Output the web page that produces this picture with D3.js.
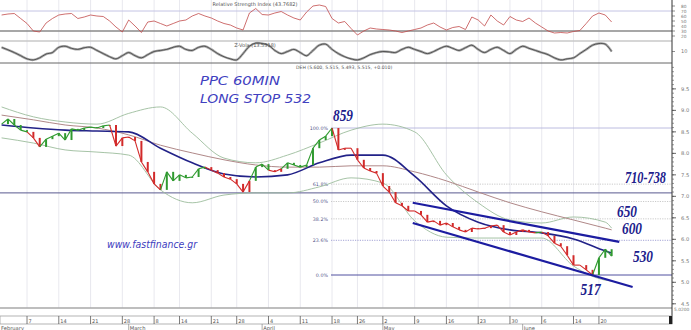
<!DOCTYPE html>
<html>
<head>
<meta charset="utf-8">
<script src="https://cdnjs.cloudflare.com/ajax/libs/d3/7.8.5/d3.min.js"></script>
<style>
body{margin:0;background:#fff}
</style>
</head>
<body>
<div id="chart"></div>
<script>
"use strict";

/* PPC (DEH) 60min chart, Feb - Jun 2011
   prices in cents, one close per trading day */

let closes = [
 868,880,866,854,850,836,815,833,840,847,
 831,857,854,859,861,859,864,866,817,836,
 838,829,780,757,729,715,757,736,750,743,
 745,764,768,761,754,745,740,729,710,736,
 768,775,761,757,764,778,773,768,773,812,
 831,840,859,808,812,812,785,766,759,754,
 724,710,685,678,666,666,657,640,643,633,
 638,629,622,617,626,624,626,631,633,617,
 610,617,622,617,615,617,608,591,584,563,
 540,540,529,517,557,577,561
];

// bar colour regime (g = green, r = red)
let trend = ("gggggrrggg"+"ggggggggrr"+"rrrrrrgggg"+"gggrrrrrrr"+"gggrrggggg"+
 "gggrrrrrrr"+"rrrrrrrrrr"+"rrrrrrrrrr"+"rrrrrgrrrr"+"rrrrggg").split("");

let rsi = [
 62,64,65,55,45,30,28,46,55,62,
 64,65,55,58,62,60,59,50,38,28,
 52,40,27,48,50,45,40,45,50,52,
 60,65,60,56,50,45,42,36,32,66,
 75,63,62,66,69,62,56,52,68,80,
 82,79,55,46,49,35,22,30,36,34,
 33,32,30,27,30,33,36,42,46,38,
 32,37,39,33,58,52,40,62,50,42,
 59,52,49,56,46,38,30,26,27,26,
 29,31,45,60,66,62,48
];

let zVola = [
 14,11.6,9,6,3,2,4,7.6,9,14,
 15,13,12,13.6,14,11,8,5,3,6,
 9,6,4,7,10,11,12,14,15,12,
 11,14,15,12,8,5,3,2,8,15,
 18,17.6,16,11,8,10,12,9,6,11,
 16,17,12,8,5,3,2,4,7,9,
 10,9.6,9,12,14,12,10,8,10,13,
 15,13,11,13.6,16,12,9,12,14,11,
 8,12,15,13,11,9,7,4,2,3,
 4,8,12,16,17.6,17,10
];

// moving averages and bands, sampled every 5 sessions
let maDays = [0,5,10,15,20,25,30,35,40,45,50,55,60,65,70,75,80,85,90,95,96];
let blueMA = [866,859,854,852,850,812,778,752,745,750,778,796,796,747,678,640,622,615,601,573,568];
let brownMA = [889,878,866,859,843,819,801,785,773,768,768,771,771,757,736,710,685,664,645,626,622];
let upperBand = [908,885,873,868,893,908,847,789,778,796,824,854,868,850,750,685,645,638,652,640,626];
let lowerBand = [836,824,808,803,796,715,685,703,708,708,722,743,731,643,605,603,603,603,538,505,503];

// fibonacci retracement 859 -> 517
let fibHigh = 859;
let fibLow = 517;
let fibLevels = [100,61.8,50,38.2,23.6,0];
let supportLevel = 708;

// hand drawn trend channel (session, price)
let channels = [
 {d0:64.7, p0:685, d1:97.2, p1:594},
 {d0:64.7, p0:638, d1:99.3, p1:489}
];
let levelNotes = [
 {text:"710-738", price:724},
 {text:"650", price:650},
 {text:"600", price:600},
 {text:"530", price:530}
];

let holidays = ["2011-03-07","2011-03-25","2011-04-22","2011-04-25","2011-06-13"];
let priceTicks = d3.range(450,1001,50);
let rsiTicks = [20,30,40,50,60,70,80];

// trading sessions
let fmt = d3.timeFormat("%Y-%m-%d");
let days = d3.timeDay.range(new Date(2011,1,1), new Date(2011,6,2))
 .filter(function(d){ return d.getDay()%6!==0 && !holidays.includes(fmt(d)); });

let width = 691, height = 330;
let right = 672;
let sans = "DejaVu Sans, sans-serif";

let svg = d3.select("#chart")
.append("svg")
.attr("width",width)
.attr("height",height)
.style("font-family",sans);

// scales
let x = d3.scaleLinear().domain([0,105.5]).range([1.6,right]);
let y = d3.scaleLinear().domain([fibLow,fibHigh]).range([275,128]);
let yRsi = d3.scaleLinear().domain([10,90]).range([41,1]);
let yZ = d3.scaleLinear().domain([0,20]).range([62,41]);

// week and month ticks
let weekTicks = [], monthTicks = [{i:0}];
for(let i=1;i<=closes.length;i=i+1){
 if(+d3.timeMonday.floor(days[i])!==+d3.timeMonday.floor(days[i-1])) weekTicks.push(i);
 if(days[i].getMonth()!==days[i-1].getMonth()) monthTicks.push({i:i});
}

// vertical grid
svg.selectAll(".vgrid")
.data(weekTicks)
.join("line")
.attr("x1",function(d){ return x(d); })
.attr("x2",function(d){ return x(d); })
.attr("y1",0).attr("y2",308)
.attr("stroke","#e2e2ea").attr("stroke-width",0.8);

// panel lines
svg.append("line").attr("x1",0).attr("x2",right).attr("y1",yRsi(70)).attr("y2",yRsi(70))
.attr("stroke","#c4c4e4").attr("stroke-width",1);
svg.append("line").attr("x1",0).attr("x2",right).attr("y1",yRsi(30)).attr("y2",yRsi(30))
.attr("stroke","#8a8a8a").attr("stroke-width",1.4);
svg.append("line").attr("x1",0).attr("x2",right).attr("y1",41).attr("y2",41)
.attr("stroke","#c8c8c8").attr("stroke-width",1.6);
svg.append("line").attr("x1",0).attr("x2",right).attr("y1",63).attr("y2",63)
.attr("stroke","#666").attr("stroke-width",1);
svg.append("line").attr("x1",0).attr("x2",right).attr("y1",308).attr("y2",308)
.attr("stroke","#a8a8a8").attr("stroke-width",1.6);

// RSI
svg.append("path")
.datum(rsi)
.attr("d",d3.line().x(function(d,i){ return x(i); }).y(function(d){ return yRsi(d); }))
.attr("fill","none").attr("stroke","#c24a4a").attr("stroke-width",0.8);

// Z-Vola (double line look)
let zLine = d3.line().curve(d3.curveCatmullRom)
.x(function(d,i){ return x(i); }).y(function(d){ return yZ(d); });
svg.append("path").datum(zVola).attr("d",zLine)
.attr("fill","none").attr("stroke","#a8a8a8").attr("stroke-width",2.4);
svg.append("path").datum(zVola).attr("d",zLine)
.attr("fill","none").attr("stroke","#3c3c3c").attr("stroke-width",0.8);

// header texts
svg.append("text").attr("x",255).attr("y",6).attr("text-anchor","middle")
.attr("font-size",5).attr("fill","#555").text("Relative Strength Index (43.7682)");
svg.append("text").attr("x",255).attr("y",47).attr("text-anchor","middle")
.attr("font-size",5).attr("fill","#555").text("Z-Vola (13.5518)");
svg.append("text").attr("x",296).attr("y",69)
.attr("font-size",4.6).attr("fill","#555").text("DEH (5.600, 5.515, 5.493, 5.515, +0.010)");

// horizontal support line
svg.append("line").attr("x1",0).attr("x2",right)
.attr("y1",y(supportLevel)).attr("y2",y(supportLevel))
.attr("stroke","#5a5a90").attr("stroke-width",1);

// fibonacci levels
let fibPrice = function(p){ return fibLow + p/100*(fibHigh-fibLow); };
svg.selectAll(".fib")
.data(fibLevels)
.join("line")
.attr("x1",331).attr("x2",right)
.attr("y1",function(d){ return y(fibPrice(d)); })
.attr("y2",function(d){ return y(fibPrice(d)); })
.attr("stroke",function(d){ return d===100 ? "#b4b4dc" : d===0 ? "#5050a0" : d===23.6 ? "#9a9ad0" : "#c4c4c4"; })
.attr("stroke-width",function(d){ return d===0 ? 1 : 0.9; })
.attr("stroke-dasharray",function(d){ return (d===100||d===0) ? null : "1.2,1.2"; });

svg.selectAll(".fibText")
.data(fibLevels)
.join("text")
.attr("x",328).attr("text-anchor","end")
.attr("y",function(d){ return y(fibPrice(d))+1.8; })
.attr("font-size",4.8).attr("fill","#55558a")
.text(function(d){ return d3.format(".1f")(d)+"%"; });

// bands and averages
let maLine = d3.line().curve(d3.curveMonotoneX)
.x(function(d,i){ return x(maDays[i]); }).y(function(d){ return y(d); });
svg.append("path").datum(upperBand).attr("d",maLine)
.attr("fill","none").attr("stroke","#9cbc9c").attr("stroke-width",0.9);
svg.append("path").datum(lowerBand).attr("d",maLine)
.attr("fill","none").attr("stroke","#9cbc9c").attr("stroke-width",0.9);
svg.append("path").datum(brownMA).attr("d",maLine)
.attr("fill","none").attr("stroke","#b08888").attr("stroke-width",1);
svg.append("path").datum(blueMA).attr("d",maLine)
.attr("fill","none").attr("stroke","#222288").attr("stroke-width",1.6);

// price bars
let colour = {g:"#2f9a2f", r:"#d22a2a"};
for(let i=1;i<closes.length;i=i+1){
 svg.append("line")
 .attr("x1",x(i-1)).attr("y1",y(closes[i-1]))
 .attr("x2",x(i)).attr("y2",y(closes[i]))
 .attr("stroke",colour[trend[i]]).attr("stroke-width",1.1);
 svg.append("line")
 .attr("x1",x(i)).attr("x2",x(i))
 .attr("y1",y(closes[i-1])).attr("y2",y(closes[i]))
 .attr("stroke",colour[trend[i]]).attr("stroke-width",2);
}

// trend channel
svg.selectAll(".chan")
.data(channels)
.join("line")
.attr("x1",function(d){ return x(d.d0); })
.attr("y1",function(d){ return y(d.p0); })
.attr("x2",function(d){ return x(d.d1); })
.attr("y2",function(d){ return y(d.p1); })
.attr("stroke","#1c1ca0").attr("stroke-width",2.2);

// annotations
let hand = function(t,px,py,len,size){
 svg.append("text").attr("x",px).attr("y",py)
 .attr("font-size",size).attr("font-style","italic")
 .attr("fill","#4040c0").attr("textLength",len).attr("lengthAdjust","spacingAndGlyphs")
 .text(t);
};
hand("PPC  60MIN",200,85,80,13);
hand("LONG STOP 532",200,103,111,13);
hand("www.fastfinance.gr",107,248,90,11);

let num = function(t,px,py,len){
 svg.append("text").attr("x",px).attr("y",py)
 .style("font-family","Liberation Serif, serif").attr("font-size",16)
 .attr("font-style","italic").attr("font-weight","bold").attr("fill","#20208c")
 .attr("textLength",len).attr("lengthAdjust","spacingAndGlyphs")
 .text(t);
};
let hi = closes.lastIndexOf(fibHigh), lo = closes.indexOf(fibLow);
num(String(closes[hi]), x(hi)+1, y(closes[hi])-7, 20);
num(String(closes[lo]), x(lo)-12, y(closes[lo])+20, 20);
let noteX = [625,617,622,633];
let noteShift = [-3,-1,-5,-7];
levelNotes.forEach(function(d,i){
 num(d.text, noteX[i], y(d.price)+noteShift[i], d.text.length>3 ? 41 : 20);
});

// right axis
svg.append("line").attr("x1",right).attr("x2",right).attr("y1",0).attr("y2",324)
.attr("stroke","#333").attr("stroke-width",1);

let minor = d3.range(450,1001,10).filter(function(d){ return y(d)>64 && y(d)<307; });
svg.selectAll(".minor")
.data(minor)
.join("line")
.attr("x1",right).attr("x2",right+2)
.attr("y1",function(d){ return y(d); }).attr("y2",function(d){ return y(d); })
.attr("stroke","#555").attr("stroke-width",0.6);

let major = priceTicks.filter(function(d){ return y(d)>71 && y(d)<307; });
svg.selectAll(".major")
.data(major)
.join("line")
.attr("x1",right).attr("x2",right+4)
.attr("y1",function(d){ return y(d); }).attr("y2",function(d){ return y(d); })
.attr("stroke","#444").attr("stroke-width",0.8);
svg.selectAll(".pLabel")
.data(major)
.join("text")
.attr("x",681).attr("y",function(d){ return y(d)+2; })
.attr("font-size",5.2).attr("fill","#777")
.text(function(d){ return (d/100).toFixed(1); });

svg.selectAll(".rTick")
.data(rsiTicks)
.join("line")
.attr("x1",right).attr("x2",right+3)
.attr("y1",function(d){ return yRsi(d); }).attr("y2",function(d){ return yRsi(d); })
.attr("stroke","#444").attr("stroke-width",0.6);
svg.selectAll(".rLabel")
.data(rsiTicks)
.join("text")
.attr("x",681).attr("y",function(d){ return yRsi(d)+1.6; })
.attr("font-size",4.3).attr("fill","#777")
.text(function(d){ return d; });

svg.append("line").attr("x1",right).attr("x2",right+3).attr("y1",yZ(10)).attr("y2",yZ(10))
.attr("stroke","#444").attr("stroke-width",0.6);
svg.append("text").attr("x",681).attr("y",yZ(10)+1.8)
.attr("font-size",5).attr("fill","#777").text("10");
svg.append("text").attr("x",674).attr("y",311)
.attr("font-size",4.4).attr("fill","#777").text("5.0200");

// time axis strip
svg.append("rect").attr("x",0).attr("y",316).attr("width",right).attr("height",8)
.attr("fill","#fff").attr("stroke","#a0a0a0").attr("stroke-width",0.8);
svg.append("rect").attr("x",right-3).attr("y",316).attr("width",3).attr("height",8)
.attr("fill","#222");

svg.selectAll(".wTick")
.data(weekTicks)
.join("line")
.attr("x1",function(d){ return x(d); }).attr("x2",function(d){ return x(d); })
.attr("y1",316).attr("y2",324)
.attr("stroke","#444").attr("stroke-width",0.7);
svg.selectAll(".wLabel")
.data(weekTicks)
.join("text")
.attr("x",function(d){ return x(d)+1.5; }).attr("y",322.5)
.attr("font-size",5).attr("fill","#555")
.text(function(d){ return d3.timeFormat("%-d")(days[d]); });

svg.selectAll(".mLabel")
.data(monthTicks)
.join("text")
.attr("x",function(d){ return d.i===0 ? 1 : x(d.i)+1; }).attr("y",329.5)
.attr("font-size",5.2).attr("fill","#555")
.text(function(d){ return d3.timeFormat("%B")(days[d.i]); });
svg.selectAll(".mTick")
.data(monthTicks.filter(function(d){ return d.i>0; }))
.join("line")
.attr("x1",function(d){ return x(d.i); }).attr("x2",function(d){ return x(d.i); })
.attr("y1",324).attr("y2",330)
.attr("stroke","#777").attr("stroke-width",0.6);
</script>
</body>
</html>
